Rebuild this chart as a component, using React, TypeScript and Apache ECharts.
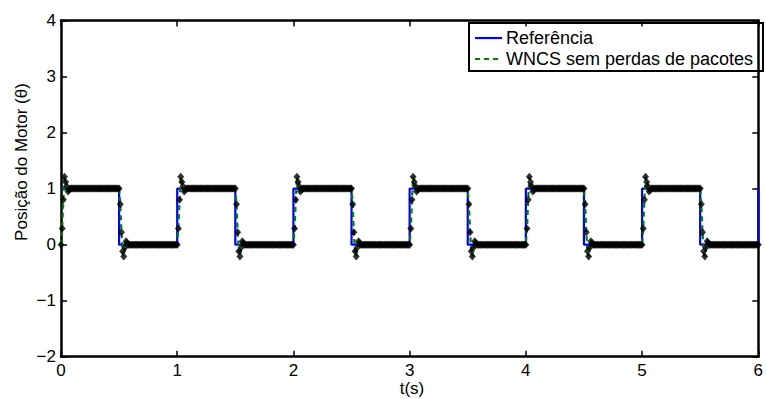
import React, { useEffect, useRef } from "react";
import * as echarts from "echarts";

// ---- data ----
const xTicks = [0, 1, 2, 3, 4, 5, 6];
const yTicks = [-2, -1, 0, 1, 2, 3, 4];
// instants at which the reference square wave switches, and the level it switches to
const switchTimes = [0, 0.5, 1, 1.5, 2, 2.5, 3, 3.5, 4, 4.5, 5, 5.5];
const refLevels = [1, 0, 1, 0, 1, 0, 1, 0, 1, 0, 1, 0];
const finalTime = 6;
const finalRefLevel = 1;
// sampling period of the WNCS response
const sampleTime = 0.01;
// WNCS response samples right after a rising / falling edge (one per sample period)
const riseResponse = [0, 0.29, 0.8, 1.21, 1.12, 1.04, 0.95, 0.98, 1.0];
const fallResponse = [1, 0.72, 0.22, -0.12, -0.21, -0.05, 0.06, 0.03, 0.0];

const legendLabels = ["Referência", "WNCS sem perdas de pacotes"];
const xTitle = "t(s)";
const yTitle = "Posição do Motor (θ)";

// ---- build series from the arrays ----
function buildReference(): number[][] {
  const pts: number[][] = [];
  switchTimes.forEach((t, i) => {
    if (i > 0) pts.push([t, refLevels[i - 1]]);
    pts.push([t, refLevels[i]]);
  });
  pts.push([finalTime, refLevels[refLevels.length - 1]]);
  pts.push([finalTime, finalRefLevel]);
  return pts;
}

function buildWncs(): number[][] {
  const pts: number[][] = [];
  const n = Math.round(finalTime / sampleTime);
  for (let k = 0; k <= n; k++) {
    const t = +(k * sampleTime).toFixed(4);
    let i = 0;
    for (let s = 0; s < switchTimes.length; s++) {
      if (switchTimes[s] <= t + 1e-9) i = s;
    }
    const j = Math.round((t - switchTimes[i]) / sampleTime);
    const resp = refLevels[i] === 1 ? riseResponse : fallResponse;
    const v = j < resp.length ? resp[j] : refLevels[i];
    pts.push([t, v]);
  }
  return pts;
}

const FONT = "'Liberation Sans', Arial, Helvetica, sans-serif";

export default function App() {
  const ref = useRef<HTMLDivElement>(null);
  useEffect(() => {
    if (!ref.current) return;
    const chart = echarts.init(ref.current, undefined, { renderer: "svg" });
    const refData = buildReference();
    const wncs = buildWncs();
    const axisLine = { show: true, onZero: false, lineStyle: { color: "#000", width: 2.5 } };
    const tick = { show: true, inside: true, length: 6, lineStyle: { color: "#000", width: 1.5 } };
    const label = { color: "#000", fontSize: 17, fontFamily: FONT };
    chart.setOption({
      animation: false,
      backgroundColor: "#fff",
      grid: { left: 61, right: 3, top: 20.5, bottom: 42.3, containLabel: false },
      xAxis: [
        {
          type: "value", min: xTicks[0], max: xTicks[xTicks.length - 1], interval: 1,
          position: "bottom", axisLine, axisTick: tick,
          axisLabel: { ...label, margin: 5, showMinLabel: true, showMaxLabel: true },
          splitLine: { show: false },
        },
        {
          type: "value", min: xTicks[0], max: xTicks[xTicks.length - 1], interval: 1,
          position: "top", axisLine, axisTick: tick, axisLabel: { show: false },
          splitLine: { show: false },
        },
      ],
      yAxis: [
        {
          type: "value", min: yTicks[0], max: yTicks[yTicks.length - 1], interval: 1,
          position: "left", axisLine, axisTick: tick,
          axisLabel: {
            ...label, margin: 5,
            formatter: (v: number) => String(v).replace("-", "\u2212"),
          },
          splitLine: { show: false },
        },
        {
          type: "value", min: yTicks[0], max: yTicks[yTicks.length - 1], interval: 1,
          position: "right", axisLine, axisTick: tick, axisLabel: { show: false },
          splitLine: { show: false },
        },
      ],
      series: [
        {
          name: legendLabels[0], type: "line", data: refData, symbol: "none",
          lineStyle: { color: "#0000ff", width: 2.2 }, z: 2,
        },
        {
          name: legendLabels[1], type: "line", data: wncs, symbol: "none",
          lineStyle: { color: "#008000", width: 2.2, type: [5, 4] }, z: 3,
        },
        {
          type: "scatter", data: wncs, symbol: "diamond", symbolSize: [7, 8],
          itemStyle: { color: "#000" }, z: 4,
        },
      ],
      graphic: [
        {
          type: "text", x: 21, y: 162, rotation: Math.PI / 2,
          style: { text: yTitle, fontSize: 17, fontFamily: FONT, fill: "#000", align: "center", verticalAlign: "middle" },
        },
        {
          type: "text", x: 412, y: 388,
          style: { text: xTitle, fontSize: 17, fontFamily: FONT, fill: "#000", align: "center", verticalAlign: "middle" },
        },
        {
          type: "group", z: 100,
          children: [
            { type: "rect", shape: { x: 469, y: 23, width: 294, height: 48 }, style: { fill: "#fff", stroke: "#000", lineWidth: 2 } },
            { type: "line", shape: { x1: 475, y1: 38, x2: 502, y2: 38 }, style: { stroke: "#0000ff", lineWidth: 2.2 } },
            { type: "line", shape: { x1: 475, y1: 59, x2: 502, y2: 59 }, style: { stroke: "#008000", lineWidth: 2.2, lineDash: [5, 4] } },
            { type: "text", x: 506, y: 38, style: { text: legendLabels[0], fontSize: 18, fontFamily: FONT, fill: "#000", verticalAlign: "middle" } },
            { type: "text", x: 506, y: 59, style: { text: legendLabels[1], fontSize: 18, fontFamily: FONT, fill: "#000", verticalAlign: "middle" } },
          ],
        },
      ],
    });
    return () => chart.dispose();
  }, []);
  return (
    <div
      ref={ref}
      style={{ position: "fixed", left: 0, top: 0, width: 766, height: 399, background: "#fff" }}
    />
  );
}
